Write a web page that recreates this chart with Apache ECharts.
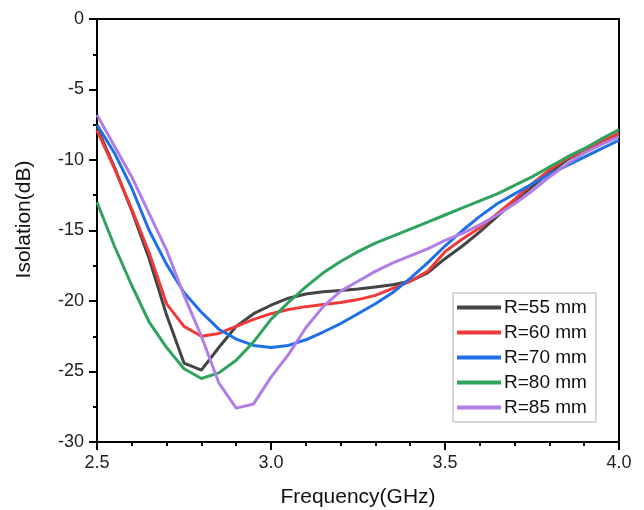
<!DOCTYPE html>
<html>
<head>
<meta charset="utf-8">
<script src="https://cdn.jsdelivr.net/npm/echarts@6/dist/echarts.min.js"></script>
<style>
html,body{margin:0;padding:0;background:#fff;}
#chart{width:644px;height:510px;}
</style>
</head>
<body>
<div id="chart"></div>
<script>
const freq = [2.5,2.55,2.6,2.65,2.7,2.75,2.8,2.85,2.9,2.95,3.0,3.05,3.1,3.15,3.2,3.25,3.3,3.35,3.4,3.45,3.5,3.55,3.6,3.65,3.7,3.75,3.8,3.85,3.9,3.95,4.0];
const r55 = [-7.7,-10.5,-13.6,-17.0,-21.0,-24.4,-24.9,-23.3,-21.8,-20.9,-20.3,-19.8,-19.5,-19.35,-19.25,-19.15,-19.0,-18.85,-18.6,-18.0,-17.0,-16.1,-15.1,-14.0,-12.9,-11.9,-10.9,-10.0,-9.3,-8.7,-8.2];
const r60 = [-7.9,-10.6,-13.5,-16.6,-20.2,-21.8,-22.5,-22.3,-21.8,-21.3,-20.9,-20.6,-20.4,-20.25,-20.1,-19.9,-19.6,-19.1,-18.6,-17.9,-16.5,-15.6,-14.8,-13.8,-12.8,-11.7,-10.7,-9.9,-9.3,-8.7,-8.1];
const r70 = [-7.5,-9.5,-12.0,-15.0,-17.4,-19.4,-20.8,-22.0,-22.7,-23.15,-23.3,-23.15,-22.75,-22.2,-21.6,-20.9,-20.2,-19.4,-18.4,-17.3,-16.1,-15.0,-14.0,-13.1,-12.4,-11.7,-11.0,-10.4,-9.8,-9.2,-8.6];
const r80 = [-13.0,-16.1,-18.9,-21.5,-23.3,-24.8,-25.5,-25.1,-24.2,-22.9,-21.3,-20.1,-19.0,-18.0,-17.2,-16.5,-15.9,-15.4,-14.9,-14.4,-13.9,-13.4,-12.9,-12.4,-11.8,-11.2,-10.5,-9.8,-9.2,-8.5,-7.85];
const r85 = [-6.8,-9.0,-11.2,-13.8,-16.4,-19.6,-22.5,-25.8,-27.6,-27.3,-25.4,-23.8,-21.9,-20.4,-19.3,-18.6,-17.9,-17.3,-16.8,-16.3,-15.7,-15.2,-14.6,-13.9,-13.1,-12.2,-11.2,-10.3,-9.5,-8.9,-8.35];
const seriesNames = ['R=55 mm','R=60 mm','R=70 mm','R=80 mm','R=85 mm'];
const seriesData = [r55, r60, r70, r80, r85];
const colors = ['#444444','#f03a3a','#1f6fe6','#2ea35c','#b07ee6'];

const chart = echarts.init(document.getElementById('chart'));
const FONT = '"Liberation Sans", Arial, sans-serif';
chart.setOption({
  animation: false,
  backgroundColor: '#fff',
  grid: {left: 97, right: 25, top: 19, bottom: 68, show: true, borderColor: '#000', borderWidth: 2, backgroundColor: 'transparent', outerBoundsMode: 'none', containLabel: false},
  legend: {
    orient: 'vertical', left: 453, top: 293,
    data: seriesNames.map(n => ({name: n, icon: 'rect'})),
    itemWidth: 44, itemHeight: 4, itemGap: 6,
    backgroundColor: '#fff', borderColor: '#b0b0b0', borderWidth: 1,
    padding: [5, 9, 5, 4],
    textStyle: {fontFamily: FONT, fontSize: 19, color: '#111', padding: [0,0,0,-2]}
  },
  xAxis: {
    type: 'value', min: 2.5, max: 4.0, interval: 0.5,
    name: 'Frequency(GHz)', nameLocation: 'middle', nameGap: 45,
    nameTextStyle: {fontFamily: FONT, fontSize: 21, color: '#111'},
    axisLine: {show: true, onZero: false, lineStyle: {color: '#000', width: 2}},
    axisTick: {show: true, inside: false, length: 8, lineStyle: {color: '#000', width: 2}},
    minorTick: {show: true, splitNumber: 5, length: 4, lineStyle: {color: '#000', width: 2}},
    axisLabel: {fontFamily: FONT, fontSize: 18, color: '#222', margin: 12, formatter: v => v.toFixed(1)},
    splitLine: {show: false}, minorSplitLine: {show: false}
  },
  yAxis: {
    type: 'value', min: -30, max: 0, interval: 5,
    name: 'Isolation(dB)', nameLocation: 'middle', nameGap: 62, nameRotate: 90,
    nameTextStyle: {fontFamily: FONT, fontSize: 21, color: '#111', padding: [0, 0, 0, 22]},
    axisLine: {show: true, onZero: false, lineStyle: {color: '#000', width: 2}},
    axisTick: {show: true, inside: false, length: 8, lineStyle: {color: '#000', width: 2}},
    minorTick: {show: true, splitNumber: 2, length: 4, lineStyle: {color: '#000', width: 2}},
    axisLabel: {fontFamily: FONT, fontSize: 18, color: '#222', margin: 13},
    splitLine: {show: false}, minorSplitLine: {show: false}
  },
  series: seriesNames.map((n, i) => ({
    name: n, type: 'line', symbol: 'none', showSymbol: false,
    data: freq.map((f, j) => [f, seriesData[i][j]]),
    lineStyle: {color: colors[i], width: 3},
    itemStyle: {color: colors[i]},
    smooth: false
  }))
});
</script>
</body>
</html>
